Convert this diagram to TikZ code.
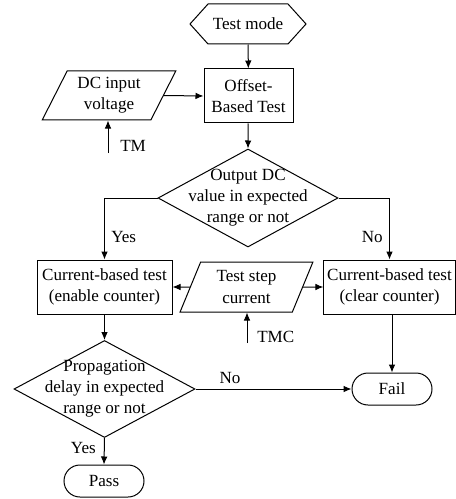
\documentclass[tikz,border=0pt]{standalone}
\usepackage{fontspec}
\setmainfont{Liberation Serif}
\usetikzlibrary{shapes.geometric,shapes.symbols,arrows.meta}

\begin{document}
\begin{tikzpicture}[x=0.75pt,y=0.75pt,yscale=-1,xscale=1,
  every node/.style={font=\fontsize{12.8}{15.8}\selectfont, align=center},
  box/.style={draw, line width=0.75pt, minimum height=40.5pt, inner sep=0.75pt},
  io/.style={draw, line width=0.75pt, trapezium, trapezium stretches=true, inner sep=0.75pt},
  term/.style={draw, line width=0.75pt, rounded corners=12pt, minimum width=60pt, minimum height=24pt},
  dec/.style={draw, line width=0.75pt, diamond, inner sep=0pt},
  arr/.style={line width=0.75pt, -{Latex[length=6pt,width=5pt]}}]
\useasboundingbox (0,0) rectangle (456,499); %set diagram size to 456 x 499

%Shape: Hexagon
\draw (248,24) node [signal, signal to=west and east, signal pointer angle=96, draw, line width=0.75pt, minimum width=87pt, minimum height=30pt, inner sep=0.75pt] (mode) {Test mode};
%Shape: Rectangle
\draw (248.5,96) node [box, minimum width=66.75pt] (offset) {Offset-\\Based Test};
%Shape: Parallelogram
\draw (109,95.5) node [io, trapezium left angle=63, trapezium right angle=117, minimum width=100.5pt, minimum height=36.75pt] (dcin) {DC input\\voltage};
\coordinate (tm) at (108,153);
% Text Node
\draw (119,146) node [anchor=west, inner sep=0.75pt] (tmlbl) {TM};

%Shape: Diamond
\draw (248,198) node [dec, minimum width=135pt, minimum height=73.5pt] (chk1) {};
% Text Node
\draw (chk1.center) node [inner sep=0.75pt] (chk1txt) {Output DC\\value in expected\\range or not};

%Shape: Rectangle
\draw (104.5,287) node [box, minimum width=101.25pt] (enab) {Current-based test\\(enable counter)};
%Shape: Rectangle
\draw (389.5,287) node [box, minimum width=98.5pt] (clr) {Current-based test\\(clear counter)};
%Shape: Parallelogram
\draw (246.5,287) node [io, trapezium left angle=68, trapezium right angle=112, minimum width=100pt, minimum height=37.5pt] (stepcur) {Test step\\current};
\coordinate (tmc) at (247,343);
% Text Node
\draw (256,337) node [anchor=west, inner sep=0.75pt] (tmclbl) {TMC};

%Shape: Diamond
\draw (104.5,389) node [dec, minimum width=135.75pt, minimum height=72.75pt] (chk2) {};
% Text Node
\draw (chk2.center) node [inner sep=0.75pt] (chk2txt) {Propagation\\delay in expected\\range or not};

%Shape: Rounded Rect
\draw (392,389) node [term] (fail) {Fail};
%Shape: Rounded Rect
\draw (104,481) node [term] (pass) {Pass};

%Straight Lines
\draw [arr] (mode) -- (offset);
\draw [arr] (dcin.east) -- (offset.west);
\draw [arr] (tm) -- (tm |- dcin.south);
\draw [arr] (offset) -- (chk1.north);
\draw [arr] (chk1.west) -| (enab.north);
\draw [arr] (chk1.east) -| (clr.north);
\draw [arr] (stepcur.west) -- (enab.east);
\draw [arr] (stepcur.east) -- (clr.west);
\draw [arr] (tmc) -- (tmc |- stepcur.south);
\draw [arr] (enab.south) -- (chk2.north);
\draw [arr] (fail.north |- clr.south) -- (fail.north);
\draw [arr] (chk2.east) -- (fail.west);
\draw [arr] (chk2.south) -- (pass.north);

% Text Node
\draw (110,237) node [anchor=west, inner sep=0.75pt] (yes1) {Yes};
% Text Node
\draw (384,237) node [anchor=east, inner sep=0.75pt] (no1) {No};
% Text Node
\draw (230,378) node [inner sep=0.75pt] (no2) {No};
% Text Node
\draw (97,448) node [anchor=east, inner sep=0.75pt] (yes2) {Yes};
\end{tikzpicture}
\end{document}
